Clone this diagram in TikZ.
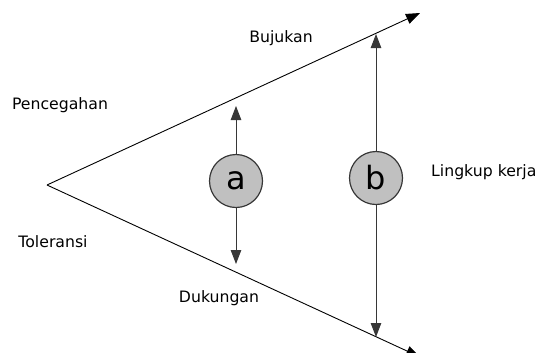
\documentclass[tikz,border=0pt]{standalone}
\usepackage{fontspec}
\setmainfont{DejaVu Sans}
\usetikzlibrary{arrows.meta}
\definecolor{circleFill}{RGB}{192,192,192}
\definecolor{darkLine}{RGB}{55,55,55}
\begin{document}
\begin{tikzpicture}
[x=1bp,y=-1bp,
  lineDecorate/.style={-{Triangle[length=14bp,width=10.5bp]},line width=0.9bp},%
  nodeDecorate/.style={shape=circle,inner sep=0pt,minimum size=53bp,draw=darkLine,
    line width=1.2bp,fill=circleFill,font=\fontsize{32bp}{32bp}\selectfont},%
  labelDecorate/.style={font=\fontsize{15.7bp}{18bp}\selectfont,inner sep=0pt}]
\useasboundingbox (0,0) rectangle (542,352);
%% wedge
\coordinate (apex) at (47,185);
\coordinate (topEnd) at (420,13);
\coordinate (botEnd) at (420,357);
\draw [lineDecorate] (apex) -- (topEnd);
\draw [lineDecorate] (apex) -- (botEnd);
%% circles
\node (a) at (236,181) [nodeDecorate] {a};
\node (b) at (376,178) [nodeDecorate] {b};
%% arrow ends
\coordinate (aTop) at (236,106);
\coordinate (aBot) at (236,264);
\coordinate (bTop) at (376,34);
\coordinate (bBot) at (376,337);
\draw [lineDecorate,draw=darkLine,fill=darkLine] (a) -- (aTop);
\draw [lineDecorate,draw=darkLine,fill=darkLine] (a) -- (aBot);
\draw [lineDecorate,draw=darkLine,fill=darkLine] (b) -- (bTop);
\draw [lineDecorate,draw=darkLine,fill=darkLine] (b) -- (bBot);
%% labels
\node (bujukan) at (281,38) [labelDecorate] {Bujukan};
\node (pencegahan) at (60,105) [labelDecorate] {Pencegahan};
\node (lingkup) at (431,172) [labelDecorate,anchor=west] {Lingkup kerja};
\node (toleransi) at (53,242) [labelDecorate] {Toleransi};
\node (dukungan) at (219,298) [labelDecorate] {Dukungan};
\end{tikzpicture}
\end{document}
